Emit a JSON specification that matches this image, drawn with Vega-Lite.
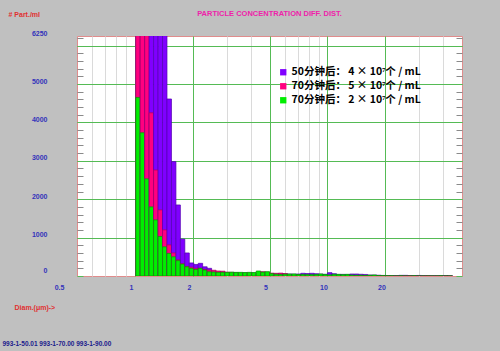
{
  "$schema": "https://vega.github.io/schema/vega-lite/v6.json",
  "width": 385,
  "height": 240,
  "autosize": {"type": "none"},
  "padding": {"left": 77, "top": 36, "right": 38, "bottom": 75},
  "background": "#c0c0c0",
  "config": {
    "view": {"fill": "white", "stroke": "#e08c8c", "strokeWidth": 1},
    "font": "Liberation Sans",
    "scale": {"continuousPadding": 0}
  },
  "title": {
    "text": "PARTICLE CONCENTRATION DIFF. DIST.",
    "fontSize": 7.5,
    "fontWeight": "bold",
    "color": "#ee22aa",
    "anchor": "middle",
    "frame": "group",
    "offset": -7
  },
  "data": {
    "values": [
      {"a": 1.010, "b": 1.065, "p": 7000, "q": 8000, "g": 4650},
      {"a": 1.065, "b": 1.124, "p": 7000, "q": 8000, "g": 3730},
      {"a": 1.124, "b": 1.185, "p": 7000, "q": 8000, "g": 2530},
      {"a": 1.185, "b": 1.250, "p": 8000, "q": 4250, "g": 1800},
      {"a": 1.250, "b": 1.319, "p": 8000, "q": 2760, "g": 1460},
      {"a": 1.319, "b": 1.391, "p": 8000, "q": 1720, "g": 1030},
      {"a": 1.391, "b": 1.467, "p": 8000, "q": 1200, "g": 760},
      {"a": 1.467, "b": 1.548, "p": 4610, "q": 810, "g": 590},
      {"a": 1.548, "b": 1.633, "p": 2980, "q": 600, "g": 500},
      {"a": 1.633, "b": 1.722, "p": 1850, "q": 420, "g": 400},
      {"a": 1.722, "b": 1.816, "p": 960, "q": 320, "g": 310},
      {"a": 1.816, "b": 1.916, "p": 600, "q": 250, "g": 240},
      {"a": 1.916, "b": 2.021, "p": 340, "q": 230, "g": 200},
      {"a": 2.021, "b": 2.132, "p": 300, "q": 200, "g": 170},
      {"a": 2.132, "b": 2.248, "p": 330, "q": 200, "g": 200},
      {"a": 2.248, "b": 2.372, "p": 240, "q": 170, "g": 156},
      {"a": 2.372, "b": 2.502, "p": 200, "q": 156, "g": 110},
      {"a": 2.502, "b": 2.639, "p": 130, "q": 150, "g": 104},
      {"a": 2.639, "b": 2.783, "p": 110, "q": 130, "g": 95},
      {"a": 2.783, "b": 2.936, "p": 100, "q": 125, "g": 95},
      {"a": 2.936, "b": 3.097, "p": 90, "q": 100, "g": 95},
      {"a": 3.097, "b": 3.266, "p": 80, "q": 95, "g": 100},
      {"a": 3.266, "b": 3.445, "p": 85, "q": 80, "g": 95},
      {"a": 3.445, "b": 3.634, "p": 70, "q": 75, "g": 95},
      {"a": 3.634, "b": 3.833, "p": 80, "q": 70, "g": 90},
      {"a": 3.833, "b": 4.043, "p": 60, "q": 80, "g": 95},
      {"a": 4.043, "b": 4.265, "p": 75, "q": 70, "g": 90},
      {"a": 4.265, "b": 4.499, "p": 60, "q": 70, "g": 130},
      {"a": 4.499, "b": 4.745, "p": 70, "q": 112, "g": 100},
      {"a": 4.745, "b": 5.005, "p": 60, "q": 100, "g": 112},
      {"a": 5.005, "b": 5.280, "p": 60, "q": 75, "g": 60},
      {"a": 5.280, "b": 5.569, "p": 55, "q": 70, "g": 45},
      {"a": 5.569, "b": 5.874, "p": 65, "q": 75, "g": 40},
      {"a": 5.874, "b": 6.196, "p": 55, "q": 65, "g": 45},
      {"a": 6.196, "b": 6.535, "p": 52, "q": 40, "g": 50},
      {"a": 6.535, "b": 6.894, "p": 50, "q": 30, "g": 52},
      {"a": 6.894, "b": 7.271, "p": 52, "q": 30, "g": 40},
      {"a": 7.271, "b": 7.670, "p": 70, "q": 25, "g": 40},
      {"a": 7.670, "b": 8.090, "p": 65, "q": 25, "g": 35},
      {"a": 8.090, "b": 8.533, "p": 70, "q": 20, "g": 35},
      {"a": 8.533, "b": 9.001, "p": 60, "q": 20, "g": 40},
      {"a": 9.001, "b": 9.494, "p": 50, "q": 20, "g": 52},
      {"a": 9.494, "b": 10.015, "p": 45, "q": 15, "g": 40},
      {"a": 10.015, "b": 10.563, "p": 87, "q": 15, "g": 30},
      {"a": 10.563, "b": 11.142, "p": 60, "q": 15, "g": 43},
      {"a": 11.142, "b": 11.753, "p": 40, "q": 10, "g": 43},
      {"a": 11.753, "b": 12.397, "p": 43, "q": 10, "g": 35},
      {"a": 12.397, "b": 13.076, "p": 40, "q": 10, "g": 43},
      {"a": 13.076, "b": 13.793, "p": 52, "q": 10, "g": 25},
      {"a": 13.793, "b": 14.549, "p": 52, "q": 5, "g": 20},
      {"a": 14.549, "b": 15.346, "p": 45, "q": 5, "g": 20},
      {"a": 15.346, "b": 16.187, "p": 40, "q": 5, "g": 15},
      {"a": 16.187, "b": 17.074, "p": 26, "q": 5, "g": 20},
      {"a": 17.074, "b": 18.010, "p": 25, "q": 0, "g": 26},
      {"a": 18.010, "b": 18.996, "p": 20, "q": 0, "g": 10},
      {"a": 18.996, "b": 20.038, "p": 15, "q": 0, "g": 10},
      {"a": 20.038, "b": 21.136, "p": 10, "q": 0, "g": 5},
      {"a": 21.136, "b": 22.294, "p": 8, "q": 0, "g": 5},
      {"a": 22.294, "b": 23.516, "p": 10, "q": 0, "g": 0},
      {"a": 23.516, "b": 24.804, "p": 17, "q": 0, "g": 5},
      {"a": 24.804, "b": 26.163, "p": 17, "q": 0, "g": 0},
      {"a": 26.163, "b": 27.597, "p": 12, "q": 5, "g": 0},
      {"a": 27.597, "b": 29.109, "p": 10, "q": 0, "g": 5},
      {"a": 29.109, "b": 30.705, "p": 14, "q": 0, "g": 0},
      {"a": 30.705, "b": 32.387, "p": 8, "q": 0, "g": 0},
      {"a": 32.387, "b": 34.162, "p": 5, "q": 5, "g": 0},
      {"a": 34.162, "b": 36.034, "p": 5, "q": 0, "g": 0},
      {"a": 36.034, "b": 38.009, "p": 5, "q": 0, "g": 0},
      {"a": 38.009, "b": 40.092, "p": 10, "q": 0, "g": 5},
      {"a": 40.092, "b": 42.289, "p": 10, "q": 0, "g": 0},
      {"a": 42.289, "b": 44.606, "p": 5, "q": 0, "g": 0}
    ]
  },
  "transform": [{"fold": ["p", "q", "g"], "as": ["key", "value"]}],
  "layer": [
    {
      "mark": {"type": "rect", "clip": true, "strokeWidth": 0.7},
      "encoding": {
        "x": {
          "field": "a",
          "type": "quantitative",
          "scale": {"type": "log", "domain": [0.5, 50], "nice": false},
          "axis": {
            "values": [0.5, 0.6, 0.7, 0.8, 0.9, 1, 2, 3, 4, 5, 6, 7, 8, 9, 10, 20, 30, 40],
            "format": "~g",
            "labelExpr": "indexof([0.5, 1, 2, 5, 10, 20], datum.value) >= 0 ? datum.label : ''",
            "labelOverlap": false,
            "labelFlush": false,
            "labelBound": false,
            "grid": true,
            "gridColor": {"condition": {"test": "indexof([1, 2, 5, 10, 20], datum.value) >= 0", "value": "#55bb55"}, "value": "#dadada"},
            "gridOpacity": {"condition": {"test": "datum.value == 0.5", "value": 0}, "value": 1},
            "ticks": false,
            "domain": false,
            "labelColor": "#3333bb",
            "labelFontSize": 7,
            "labelFontWeight": "bold",
            "labelPadding": 7,
            "labelOffset": {"condition": {"test": "datum.value == 0.5", "value": -18}, "value": -4},
            "title": "Diam.(μm)->",
            "titleColor": "#e03030",
            "titleFontSize": 7,
            "titleFontWeight": "bold",
            "titleAngle": 0,
            "titleAlign": "left",
            "titleBaseline": "middle",
            "titleX": -63,
            "titleY": 31
          }
        },
        "x2": {"field": "b"},
        "y": {
          "field": "value",
          "type": "quantitative",
          "stack": null,
          "scale": {"domain": [0, 6250], "nice": false},
          "axis": {
            "values": [0, 1000, 2000, 3000, 4000, 5000, 6250],
            "format": "d",
            "grid": false,
            "ticks": false,
            "domain": false,
            "labelOverlap": false,
            "labelColor": "#3333bb",
            "labelFontSize": 7,
            "labelFontWeight": "bold",
            "labelPadding": 30,
            "labelOffset": {"condition": {"test": "datum.value == 0", "value": -6}, "value": -3},
            "title": "# Part./ml",
            "titleColor": "#e03030",
            "titleFontSize": 7,
            "titleFontWeight": "bold",
            "titleAngle": 0,
            "titleAlign": "left",
            "titleBaseline": "middle",
            "titleX": -69,
            "titleY": -22
          }
        },
        "y2": {"datum": 0},
        "color": {
          "field": "key",
          "type": "nominal",
          "scale": {"domain": ["p", "q", "g"], "range": ["#8000ff", "#ff0080", "#00ee00"]},
          "legend": {
            "orient": "none",
            "legendX": 201,
            "legendY": 31,
            "title": null,
            "padding": 0,
            "symbolType": "square",
            "symbolSize": 40,
            "symbolStrokeWidth": 0,
            "labelFont": "Noto Sans CJK SC",
            "labelFontSize": 10.5,
            "labelFontWeight": "bold",
            "labelColor": "black",
            "labelOffset": 3,
            "rowPadding": 3,
            "labelLimit": 300,
            "labelExpr": "datum.value == 'p' ? '50分钟后： 4 × 10⁷个 / mL' : datum.value == 'q' ? '70分钟后： 5 × 10⁷个 / mL' : '70分钟后： 2 × 10⁷个 / mL'"
          }
        },
        "stroke": {
          "field": "key",
          "type": "nominal",
          "scale": {"domain": ["p", "q", "g"], "range": ["#5200b0", "#b0005a", "#009900"]},
          "legend": null
        }
      }
    },
    {
      "data": {"values": [{}]},
      "mark": {"type": "rule", "opacity": 0},
      "encoding": {
        "y": {
          "datum": 0,
          "type": "quantitative",
          "axis": {
            "orient": "left",
            "values": [0, 200, 400, 600, 800, 1000, 1200, 1400, 1600, 1800, 2000, 2200, 2400, 2600, 2800, 3000, 3200, 3400, 3600, 3800, 4000, 4200, 4400, 4600, 4800, 5000, 5200, 5400, 5600, 5800, 6000, 6200],
            "labels": false,
            "domain": false,
            "title": null,
            "grid": true,
            "gridColor": "#55bb55",
            "gridOpacity": {"condition": {"test": "datum.value % 1000 == 0 && datum.value > 0", "value": 1}, "value": 0},
            "ticks": true,
            "tickSize": -6,
            "tickColor": {"condition": {"test": "datum.value % 1000 == 0", "value": "#55bb55"}, "value": "#8a8a8a"}
          }
        }
      }
    },
    {
      "data": {"values": [{}]},
      "mark": {"type": "rule", "opacity": 0},
      "encoding": {
        "y": {
          "datum": 0,
          "type": "quantitative",
          "axis": {
            "orient": "right",
            "values": [0, 200, 400, 600, 800, 1000, 1200, 1400, 1600, 1800, 2000, 2200, 2400, 2600, 2800, 3000, 3200, 3400, 3600, 3800, 4000, 4200, 4400, 4600, 4800, 5000, 5200, 5400, 5600, 5800, 6000, 6200],
            "labels": false,
            "domain": false,
            "grid": false,
            "ticks": true,
            "tickSize": -6,
            "tickColor": {"condition": {"test": "datum.value % 1000 == 0", "value": "#55bb55"}, "value": "#8a8a8a"},
            "title": "993-1-50.01 993-1-70.00 993-1-90.00",
            "titleColor": "#1a1a8c",
            "titleFontSize": 6.5,
            "titleFontWeight": "bold",
            "titleAngle": 0,
            "titleAlign": "left",
            "titleBaseline": "middle",
            "titleX": -460,
            "titleY": 307
          }
        }
      }
    }
  ],
  "resolve": {"axis": {"y": "independent"}}
}
